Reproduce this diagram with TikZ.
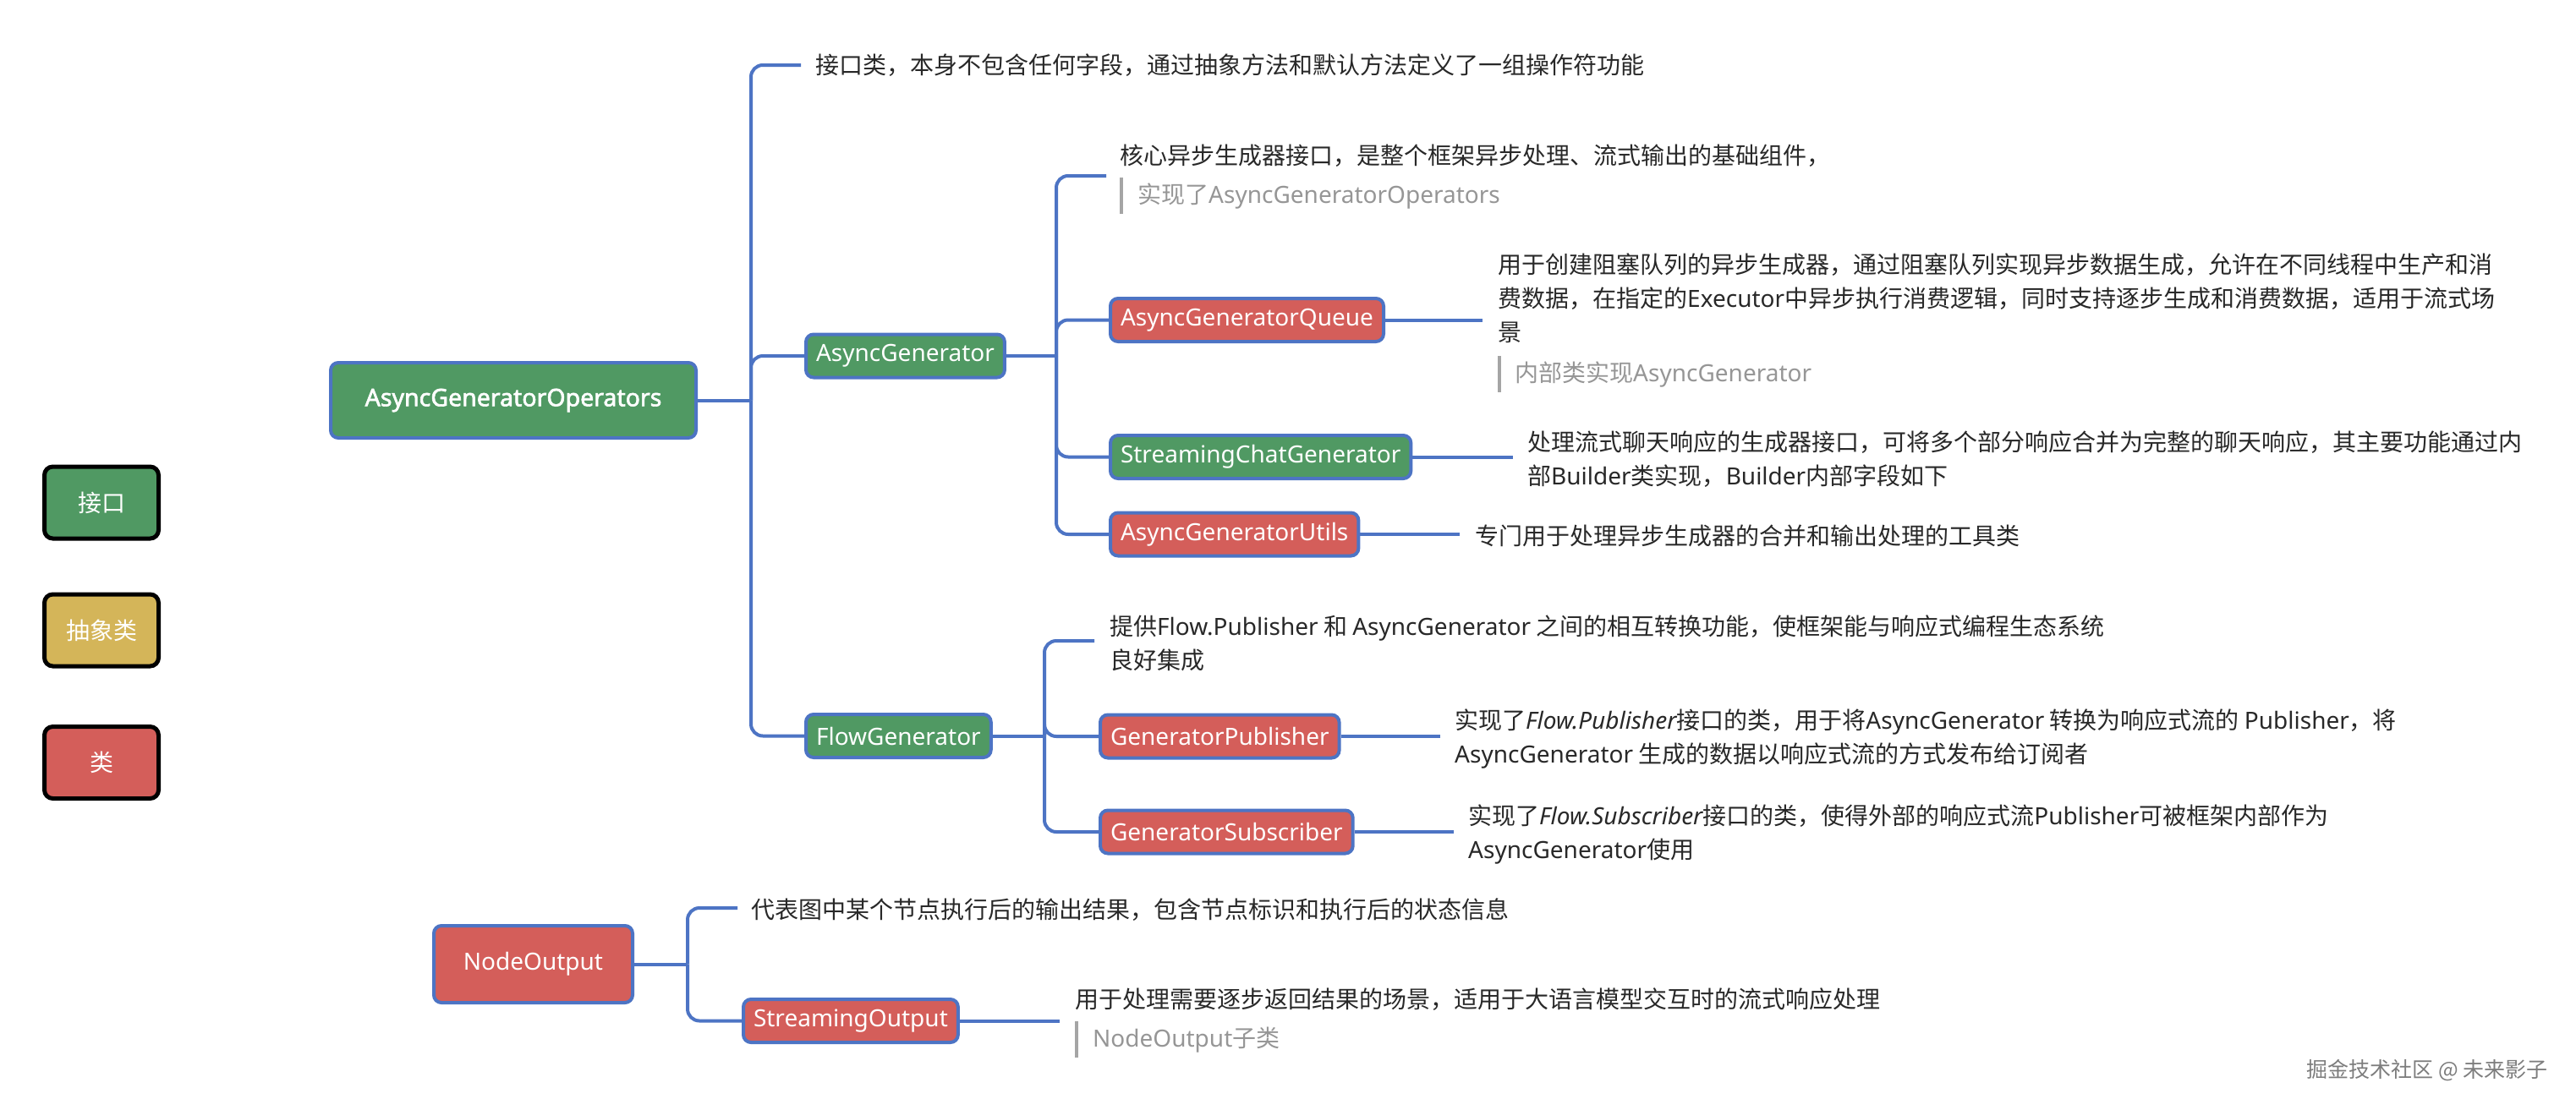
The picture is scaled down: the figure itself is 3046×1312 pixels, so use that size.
\documentclass[tikz,border=0pt]{standalone}
\usepackage{fontspec}
\setmainfont{Noto Sans CJK SC}
\newfontfamily\lat{Noto Sans}
\newfontfamily\latbold{Noto Sans}[FakeBold=2.2]
\newcommand\latx[1]{{\lat #1}}
\newcommand\latit[1]{{\lat\itshape #1}}
\definecolor{cgreen}{RGB}{80,153,99}
\definecolor{cred}{RGB}{212,94,90}
\definecolor{cyellow}{RGB}{212,181,89}
\definecolor{cblue}{RGB}{77,116,196}
\definecolor{ctext}{RGB}{40,40,40}
\definecolor{cgray}{RGB}{150,150,150}
\definecolor{cbar}{RGB}{165,165,165}
\definecolor{cwm}{RGB}{125,125,125}
\tikzset{
  box/.style={draw=cblue, line width=4pt, rounded corners=9pt, text=white,
    font=\lat\fontsize{28}{34}\selectfont, inner xsep=12pt, inner ysep=0pt, minimum height=51pt},
  gbox/.style={box, fill=cgreen},
  rbox/.style={box, fill=cred},
  legend/.style={draw=black, line width=5pt, rounded corners=10pt, text=white,
    minimum width=135pt, minimum height=85pt, font=\fontsize{28}{34}\selectfont},
  desc/.style={anchor=west, inner sep=0pt, text=ctext, align=left, font=\fontsize{28}{40}\selectfont},
  note/.style={anchor=west, inner sep=0pt, text=cgray, font=\fontsize{28}{40}\selectfont},
  conn/.style={draw=cblue, line width=4pt, rounded corners=14pt},
  notebar/.style={draw=cbar, line width=3.5pt}
}
\begin{document}
\begin{tikzpicture}[x=1pt,y=-1pt]
\fill[white] (0,0) rectangle (3046,1312);
\useasboundingbox (0,0) rectangle (3046,1312);

% legend
\node[legend, fill=cgreen] (lg1) at (120,594.5) {接口};
\node[legend, fill=cyellow] (lg2) at (120,745.5) {抽象类};
\node[legend, fill=cred] (lg3) at (120,902) {类};

% boxes
\node[gbox, minimum width=432pt, minimum height=89pt, font=\latbold\fontsize{28.5}{34}\selectfont] (root) at (607,473.5) {AsyncGeneratorOperators};
\node[gbox, anchor=west] (ag) at (951,421) {AsyncGenerator};
\node[rbox, anchor=west] (agq) at (1311,378.5) {AsyncGeneratorQueue};
\node[gbox, anchor=west] (scg) at (1311,540.5) {StreamingChatGenerator};
\node[rbox, anchor=west] (agu) at (1311,632) {AsyncGeneratorUtils};
\node[gbox, anchor=west] (fg) at (951,870.5) {FlowGenerator};
\node[rbox, anchor=west] (gp) at (1299,871) {GeneratorPublisher};
\node[rbox, anchor=west] (gs) at (1299,984) {GeneratorSubscriber};
\node[rbox, minimum width=235pt, minimum height=91pt] (no) at (630.5,1140.5) {NodeOutput};
\node[rbox, anchor=west] (so) at (877,1207.5) {StreamingOutput};

% descriptions
\node[desc] (d0) at (964,77) {接口类，本身不包含任何字段，通过抽象方法和默认方法定义了一组操作符功能};
\node[desc] (d1) at (1324,184.5) {核心异步生成器接口，是整个框架异步处理、流式输出的基础组件，};
\node[note] (n1) at (1345,232) {实现了\latx{AsyncGeneratorOperators}};
\node[desc] (d2) at (1771,352.5) {用于创建阻塞队列的异步生成器，通过阻塞队列实现异步数据生成，允许在不同线程中生产和消\\费数据，在指定的\latx{Executor}中异步执行消费逻辑，同时支持逐步生成和消费数据，适用于流式场\\景};
\node[note] (n2) at (1791,443) {内部类实现\latx{AsyncGenerator}};
\node[desc] (d3) at (1806,543) {处理流式聊天响应的生成器接口，可将多个部分响应合并为完整的聊天响应，其主要功能通过内\\部\latx{Builder}类实现，\latx{Builder}内部字段如下};
\node[desc] (d4) at (1744,634) {专门用于处理异步生成器的合并和输出处理的工具类};
\node[desc] (d5) at (1312,760.5) {提供\latx{Flow.Publisher} 和 \latx{AsyncGenerator} 之间的相互转换功能，使框架能与响应式编程生态系统\\良好集成};
\node[desc] (d6) at (1720,873.5) {实现了\latit{Flow.Publisher}接口的类，用于将\latx{AsyncGenerator} 转换为响应式流的 \latx{Publisher}，将\\\latx{AsyncGenerator} 生成的数据以响应式流的方式发布给订阅者};
\node[desc] (d7) at (1736,987) {实现了\latit{Flow.Subscriber}接口的类，使得外部的响应式流\latx{Publisher}可被框架内部作为\\\latx{AsyncGenerator}使用};
\node[desc] (d8) at (888,1076) {代表图中某个节点执行后的输出结果，包含节点标识和执行后的状态信息};
\node[desc] (d9) at (1271,1182) {用于处理需要逐步返回结果的场景，适用于大语言模型交互时的流式响应处理};
\node[note] (n3) at (1292,1230) {\latx{NodeOutput}子类};
\node[anchor=east, inner sep=0pt, text=cwm, font=\fontsize{25}{30}\selectfont] (wm) at (3013,1266) {掘金技术社区 @ 未来影子};

% note bars
\draw[notebar] ([xshift=-19pt,yshift=22pt]n1.west) -- ([xshift=-19pt,yshift=-21pt]n1.west);
\draw[notebar] ([xshift=-18pt,yshift=22pt]n2.west) -- ([xshift=-18pt,yshift=-21pt]n2.west);
\draw[notebar] ([xshift=-19pt,yshift=22pt]n3.west) -- ([xshift=-19pt,yshift=-21pt]n3.west);

% junctions and ends
\coordinate (j1) at (888,473.5);
\coordinate (e1) at (947,77);
\coordinate (j2) at (1249,421);
\coordinate (e2) at (1308,208);
\coordinate (e3) at (1753,378.5);
\coordinate (e4) at (1789,540.5);
\coordinate (e5) at (1726,632);
\coordinate (j3) at (1235,870.5);
\coordinate (e6) at (1294,758);
\coordinate (e7) at (1703,871);
\coordinate (e8) at (1719,984);
\coordinate (j4) at (813,1140.5);
\coordinate (e9) at (872,1074);
\coordinate (e10) at (1253,1207.5);

% connectors
\draw[conn] (root.east) -- (j1);
\draw[conn] (j1) |- (e1);
\draw[conn] (j1) |- (ag.west);
\draw[conn] (j1) |- (fg.west);

\draw[conn] (ag.east) -- (j2);
\draw[conn] (j2) |- (e2);
\draw[conn] (j2) |- (agq.west);
\draw[conn] (j2) |- (scg.west);
\draw[conn] (j2) |- (agu.west);
\draw[conn] (agq.east) -- (e3);
\draw[conn] (scg.east) -- (e4);
\draw[conn] (agu.east) -- (e5);

\draw[conn] (fg.east) -- (j3);
\draw[conn] (j3) |- (e6);
\draw[conn] (j3) |- (gp.west);
\draw[conn] (j3) |- (gs.west);
\draw[conn] (gp.east) -- (e7);
\draw[conn] (gs.east) -- (e8);

\draw[conn] (no.east) -- (j4);
\draw[conn] (j4) |- (e9);
\draw[conn] (j4) |- (so.west);
\draw[conn] (so.east) -- (e10);
\end{tikzpicture}
\end{document}
